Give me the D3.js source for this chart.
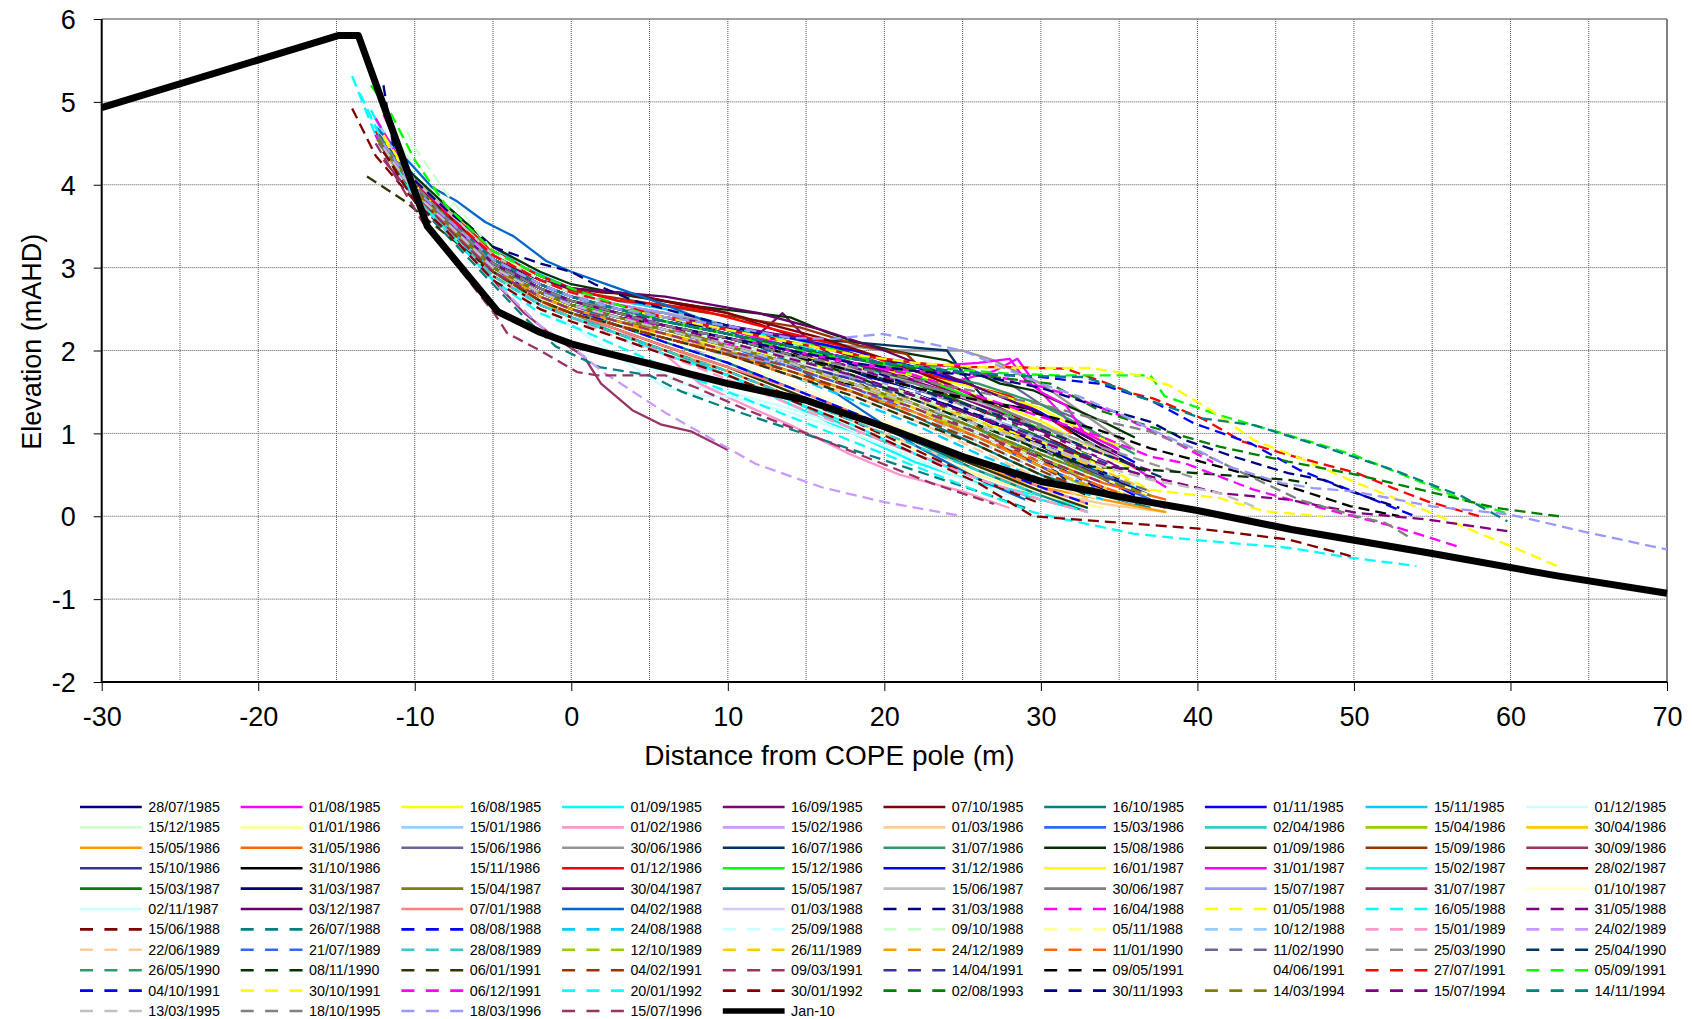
<!DOCTYPE html>
<html>
<head>
<meta charset="utf-8">
<script src="https://cdn.jsdelivr.net/npm/d3@7"></script>
<style>
body{margin:0;background:#fff;}
svg{display:block;}
text{font-family:"Liberation Sans",Arial,sans-serif;fill:#000;}
</style>
</head>
<body>
<svg id="chart" width="1693" height="1019"></svg>
<script>
/*Survey profiles: [distance from COPE pole (m), elevation (mAHD)]*/
var surveys1985 = [
  ["28/07/1985",[[-12.5,4.7],[-10,4.05],[-8,3.7],[-5,3.15],[-2,2.85],[0,2.7],[3,2.5],[6,2.4],[10,2.2],[14,2.0],[18,1.75],[22,1.45],[26,1.1],[30,0.7],[33,0.4],[36,0.15]]],
  ["01/08/1985",[[-12,4.85],[-10,4.0],[-8,3.6],[-5,3.0],[-2,2.7],[0,2.55],[3,2.4],[6,2.3],[9,2.1],[12,2.0],[16,1.85],[20,1.7],[24,1.6],[27,1.75],[28.5,1.9],[30,1.5],[32,1.1],[35,0.7],[38,0.35]]],
  ["16/08/1985",[[-12.3,4.5],[-10,3.95],[-8,3.55],[-5,3.05],[-2,2.7],[0,2.5],[3,2.35],[6,2.2],[10,2.05],[14,1.9],[18,1.8],[22,1.7],[26,1.45],[30,1.15],[33,0.85],[36,0.55]]],
  ["01/09/1985",[[-12.8,4.9],[-10,3.9],[-8,3.5],[-5,2.95],[-2,2.55],[0,2.4],[3,2.2],[6,2.0],[10,1.7],[14,1.35],[18,1.0],[22,0.65],[26,0.4],[30,0.25],[33,0.1]]],
  ["16/09/1985",[[-12,4.5],[-10,4.0],[-8,3.65],[-5,3.1],[-2,2.8],[0,2.65],[3,2.55],[6,2.45],[9,2.3],[12,2.2],[13.5,2.45],[15,2.15],[19,1.9],[23,1.6],[27,1.3],[31,0.9],[34,0.6]]],
  ["07/10/1985",[[-12.5,4.6],[-10,4.05],[-8,3.7],[-5,3.2],[-2,2.9],[0,2.75],[2,2.7],[4,2.68],[7,2.55],[10,2.45],[13,2.25],[16,2.05],[20,1.8],[24,1.45],[28,1.1],[32,0.7],[35,0.4]]],
  ["16/10/1985",[[-12,4.4],[-10,3.95],[-8,3.6],[-5,3.05],[-2,2.75],[0,2.55],[3,2.35],[6,2.2],[10,2.0],[14,1.75],[18,1.5],[22,1.2],[26,0.85],[30,0.5],[34,0.25],[37,0.1]]],
  ["01/11/1985",[[-12.3,4.6],[-10,3.9],[-8,3.55],[-5,3.0],[-2,2.7],[0,2.6],[3,2.45],[6,2.3],[10,2.15],[14,1.95],[18,1.75],[22,1.5],[26,1.2],[30,0.85],[33,0.55],[36,0.25]]],
  ["15/11/1985",[[-12.5,4.7],[-10,4.1],[-8,3.75],[-5,3.25],[-3,3.0],[0,2.75],[3,2.6],[6,2.5],[10,2.3],[14,2.1],[18,1.85],[22,1.55],[26,1.25],[30,0.9],[34,0.5],[37,0.2]]],
  ["01/12/1985",[[-12,4.4],[-10,3.85],[-8,3.5],[-5,2.95],[-2,2.6],[0,2.45],[3,2.25],[5,1.8],[7,1.6],[10,1.5],[14,1.3],[18,1.05],[22,0.75],[26,0.45],[29,0.25]]],
  ["15/12/1985",[[-11,4.5],[-10,4.2],[-8,3.75],[-5,3.2],[-2,2.85],[0,2.7],[3,2.5],[6,2.35],[10,2.15],[14,1.95],[18,1.7],[22,1.45],[26,1.1],[30,0.75],[33,0.45]]]
];
var surveys1986 = [
  ["01/01/1986",[[-12,4.5],[-10,3.9],[-8,3.55],[-5,3.0],[-2,2.65],[0,2.45],[3,2.25],[6,2.05],[10,1.8],[14,1.5],[18,1.15],[22,0.8],[26,0.5],[30,0.25],[34,0.1]]],
  ["15/01/1986",[[-12.5,4.8],[-10,4.0],[-8,3.65],[-5,3.1],[-2,2.8],[0,2.6],[3,2.4],[6,2.25],[10,2.05],[14,1.8],[18,1.55],[22,1.25],[26,0.95],[30,0.6],[33,0.35],[36,0.15]]],
  ["01/02/1986",[[-12,4.45],[-10,3.9],[-8,3.5],[-5,2.95],[-2,2.6],[0,2.45],[3,2.25],[6,1.95],[8.2,1.6],[11,1.35],[14,1.1],[17.8,0.75],[21,0.5],[25,0.3],[28,0.1]]],
  ["15/02/1986",[[-12.3,4.6],[-10,4.0],[-8,3.65],[-5,3.15],[-2,2.85],[0,2.7],[3,2.55],[6,2.45],[10,2.3],[14,2.1],[18,1.85],[22,1.55],[26,1.25],[30,0.9],[34,0.55]]],
  ["01/03/1986",[[-12,4.4],[-10,3.85],[-8,3.45],[-5,2.9],[-2,2.6],[0,2.45],[3,2.25],[6,2.05],[10,1.75],[14,1.45],[18,1.15],[22,0.85],[26,0.55],[30,0.3],[34,0.15],[38,0.05]]],
  ["15/03/1986",[[-12.4,4.6],[-10,3.95],[-8,3.6],[-5,3.05],[-2,2.75],[0,2.55],[3,2.4],[6,2.3],[10,2.1],[14,1.9],[18,1.7],[22,1.5],[26,1.2],[30,0.85],[34,0.45],[37,0.2]]],
  ["02/04/1986",[[-12,4.5],[-10,3.9],[-8,3.55],[-5,3.0],[-2,2.65],[0,2.45],[3,2.2],[6,2.0],[10,1.7],[14,1.4],[18,1.05],[22,0.75],[26,0.45],[29,0.25],[32,0.1]]],
  ["15/04/1986",[[-12.2,4.5],[-10,3.95],[-8,3.55],[-5,3.0],[-2,2.7],[0,2.55],[3,2.4],[6,2.25],[10,2.05],[14,1.85],[18,1.6],[22,1.3],[26,0.95],[30,0.6],[33,0.35],[36,0.2]]],
  ["30/04/1986",[[-12,4.4],[-10,3.85],[-8,3.5],[-5,2.95],[-2,2.65],[0,2.45],[3,2.3],[6,2.2],[10,2.0],[14,1.8],[18,1.55],[22,1.3],[26,1.0],[30,0.65],[34,0.35],[37,0.15]]],
  ["15/05/1986",[[-12.5,4.6],[-10,3.9],[-8,3.5],[-5,2.95],[-2,2.6],[0,2.4],[3,2.2],[6,2.0],[10,1.75],[14,1.45],[18,1.2],[22,0.9],[26,0.6],[30,0.35],[34,0.2],[38,0.05]]],
  ["31/05/1986",[[-12.3,4.55],[-10,3.95],[-8,3.6],[-5,3.05],[-2,2.75],[0,2.6],[3,2.45],[6,2.3],[10,2.1],[14,1.9],[18,1.65],[22,1.35],[26,1.05],[30,0.7],[34,0.4],[38,0.2]]],
  ["15/06/1986",[[-12,4.5],[-10,4.0],[-8,3.65],[-5,3.1],[-2,2.8],[0,2.65],[3,2.5],[6,2.4],[10,2.25],[14,2.1],[18,1.95],[22,1.85],[25,1.8],[28,1.6],[30,1.35],[32,1.2],[35,0.8]]],
  ["30/06/1986",[[-12.5,4.65],[-10,4.05],[-8,3.7],[-5,3.15],[-2,2.85],[0,2.7],[3,2.55],[6,2.45],[10,2.3],[14,2.15],[18,2.05],[20,2.0],[25,2.0],[27,1.88],[30,1.6],[33,1.2],[36,0.8]]],
  ["16/07/1986",[[-12.2,4.5],[-10,3.95],[-8,3.6],[-5,3.1],[-2,2.8],[0,2.65],[3,2.5],[6,2.4],[10,2.25],[14,2.15],[18,2.1],[21,2.05],[24,2.0],[25.2,1.68],[27.4,1.2],[29.5,0.8],[31.6,0.43]]],
  ["31/07/1986",[[-12,4.4],[-10,3.95],[-8,3.6],[-5,3.05],[-2,2.75],[0,2.6],[3,2.45],[6,2.35],[10,2.2],[14,2.05],[18,1.9],[22,1.75],[26,1.6],[30,1.35],[33,1.05],[36,0.75]]],
  ["15/08/1986",[[-12.5,4.6],[-10,4.1],[-8,3.75],[-5,3.25],[-2,2.95],[0,2.8],[4,2.65],[8.2,2.53],[14,2.4],[16.3,2.22],[18.2,2.1],[21,1.98],[24,1.88],[27.4,1.6],[29.5,1.52],[34.2,1.12],[36,0.95]]],
  ["01/09/1986",[[-12,4.4],[-10,3.9],[-8,3.5],[-5,2.95],[-2,2.6],[0,2.45],[3,2.25],[6,2.05],[10,1.8],[14,1.5],[18,1.2],[22,0.9],[26,0.6],[30,0.3],[33,0.1]]],
  ["15/09/1986",[[-12.3,4.55],[-10,4.0],[-8,3.65],[-5,3.15],[-2,2.85],[0,2.72],[4,2.6],[8.2,2.47],[14.6,2.28],[18.4,2.06],[21.4,1.96],[22.7,1.72],[25.7,1.12],[28,0.8],[31,0.5]]],
  ["30/09/1986",[[-12,4.45],[-10,3.9],[-8,3.55],[-5,3.0],[-2,2.7],[0,2.55],[3,2.4],[6,2.25],[10,2.1],[14,1.9],[18,1.65],[22,1.35],[26,1.0],[30,0.65],[34,0.35]]],
  ["15/10/1986",[[-12.5,4.6],[-10,4.0],[-8,3.6],[-5,3.05],[-2,2.75],[0,2.6],[3,2.45],[6,2.3],[10,2.15],[14,1.95],[18,1.75],[22,1.5],[26,1.2],[30,0.85],[33,0.55],[36,0.3]]],
  ["31/10/1986",[[-12,4.4],[-10,3.9],[-8,3.55],[-5,3.0],[-2,2.7],[0,2.55],[3,2.4],[6,2.3],[10,2.15],[14,2.0],[17.4,1.6],[22,1.5],[26,1.4],[29.7,1.28],[33,0.9],[36,0.6]]],
  ["15/11/1986",[[-12.2,4.5],[-10,3.95],[-8,3.6],[-5,3.05],[-2,2.75],[0,2.6],[3,2.45],[6,2.3],[10,2.1],[14,1.9],[18,1.65],[22,1.4],[26,1.1],[30,0.75]]],
  ["01/12/1986",[[-12.4,4.6],[-10,4.05],[-8,3.7],[-5,3.2],[-2,2.9],[0,2.75],[3,2.6],[6,2.55],[8.2,2.49],[12,2.3],[17.6,2.04],[19.9,1.88],[22,1.75],[26,1.55],[28,1.45],[30,1.25],[32,1.0]]],
  ["15/12/1986",[[-12,4.5],[-10,3.95],[-8,3.55],[-5,3.0],[-2,2.7],[0,2.55],[3,2.45],[6,2.4],[10,2.3],[14,2.15],[18,1.95],[22,1.7],[26,1.4],[30,1.05],[33,0.75]]],
  ["31/12/1986",[[-12.3,4.55],[-10,4.0],[-8,3.6],[-5,3.05],[-2,2.8],[0,2.65],[3,2.5],[6,2.4],[10,2.3],[14,2.15],[18,2.0],[22,1.8],[26,1.55],[30,1.25],[33,0.95],[36,0.65]]]
];
var surveys1987 = [
  ["16/01/1987",[[-12,4.45],[-10,3.9],[-8,3.55],[-5,3.0],[-2,2.7],[0,2.55],[3,2.4],[6,2.3],[10,2.15],[14,1.95],[18,1.8],[22,1.7],[26,1.55],[30,1.3],[33,1.0],[35,0.85]]],
  ["31/01/1987",[[-12.5,4.7],[-10,4.05],[-8,3.65],[-5,3.1],[-2,2.8],[0,2.65],[3,2.5],[6,2.4],[10,2.25],[14,2.05],[18,1.9],[22,1.8],[26,1.85],[28,1.9],[29,1.65],[30,1.5],[31.6,1.34],[32.7,1.02],[35,0.8]]],
  ["15/02/1987",[[-12,4.5],[-10,3.95],[-8,3.6],[-5,3.05],[-2,2.75],[0,2.6],[3,2.5],[6,2.4],[10,2.3],[14,2.1],[18,1.85],[22,1.55],[26,1.25],[30,0.9],[33,0.6],[36,0.35]]],
  ["28/02/1987",[[-12.3,4.6],[-10,4.0],[-8,3.65],[-5,3.15],[-2,2.85],[0,2.75],[3,2.7],[6,2.6],[9,2.5],[12,2.35],[16,2.15],[20,1.9],[24,1.6],[28,1.25],[31,0.9],[34,0.6]]],
  ["15/03/1987",[[-12,4.45],[-10,3.95],[-8,3.6],[-5,3.05],[-2,2.75],[0,2.6],[3,2.45],[6,2.35],[10,2.2],[14,2.05],[18,1.85],[22,1.6],[26,1.3],[30,0.95],[34,0.6]]],
  ["31/03/1987",[[-12.5,4.6],[-10,3.95],[-8,3.55],[-5,3.0],[-2,2.7],[0,2.55],[3,2.4],[6,2.3],[10,2.15],[14,1.95],[18,1.75],[22,1.5],[26,1.2],[30,0.85],[34,0.5],[37,0.25]]],
  ["15/04/1987",[[-12,4.4],[-10,3.85],[-8,3.5],[-5,2.95],[-2,2.65],[0,2.5],[3,2.35],[6,2.25],[10,2.1],[14,1.9],[18,1.7],[22,1.45],[26,1.15],[30,0.8],[34,0.45]]],
  ["30/04/1987",[[-12.3,4.55],[-10,4.0],[-8,3.6],[-5,3.05],[-2,2.8],[0,2.65],[3,2.5],[6,2.4],[10,2.3],[13,2.2],[15,2.15],[17,1.9],[20,1.75],[24,1.5],[28,1.2],[32,0.85],[35,0.6]]],
  ["15/05/1987",[[-12,4.45],[-10,3.9],[-8,3.55],[-5,3.0],[-2,2.65],[0,2.5],[3,2.3],[6,2.1],[10,1.85],[14,1.55],[18,1.25],[22,0.9],[26,0.55],[30,0.25],[33,0.05]]],
  ["15/06/1987",[[-12.5,4.7],[-10,4.05],[-8,3.7],[-5,3.15],[-2,2.85],[0,2.7],[3,2.55],[6,2.45],[8,2.4],[9.5,2.05],[12,2.0],[16,1.85],[20,1.7],[24,1.5],[28,1.25],[32,0.95],[35,0.7]]],
  ["30/06/1987",[[-12.2,4.5],[-10,3.95],[-8,3.6],[-5,3.05],[-2,2.75],[0,2.6],[3,2.5],[6,2.45],[7,2.4],[8.5,2.0],[11,1.95],[15,1.85],[18,1.75],[22,1.6],[26,1.4],[30,1.1],[33,0.8]]],
  ["15/07/1987",[[-12,4.45],[-10,3.95],[-8,3.6],[-5,3.1],[-2,2.8],[0,2.65],[3,2.55],[6,2.45],[7,2.4],[8,2.0],[10,1.95],[13,1.85],[16,1.75],[20,1.6],[24,1.4],[28,1.1],[32,0.75]]],
  ["31/07/1987",[[-12,4.3],[-10,3.85],[-8,3.45],[-5,2.85],[-3,2.45],[-1,2.15],[0.8,1.93],[1.9,1.6],[3.9,1.28],[5.7,1.11],[7.7,1.02],[10,0.8]]],
  ["01/10/1987",[[-12.3,4.5],[-10,3.9],[-8,3.55],[-5,3.0],[-2,2.65],[0,2.45],[3,2.3],[6,2.15],[10,1.9],[14,1.6],[18,1.3],[22,1.0],[26,0.65],[30,0.4],[34,0.2]]],
  ["02/11/1987",[[-12,4.4],[-10,3.85],[-8,3.45],[-5,2.9],[-2,2.5],[0,2.3],[2,2.05],[4,1.8],[6,1.55],[8.5,1.45],[10,1.45],[14,1.25],[18,1.0],[22,0.7],[25,0.45],[28,0.25]]],
  ["03/12/1987",[[-12.4,4.55],[-10,4.0],[-8,3.6],[-5,3.1],[-2,2.85],[0,2.75],[3,2.7],[6,2.65],[9,2.55],[12,2.45],[16,2.25],[20,2.0],[24,1.7],[28,1.4],[32,1.05],[35,0.75]]]
];
var surveys1988 = [
  ["07/01/1988",[[-12,4.4],[-10,3.9],[-8,3.5],[-5,2.95],[-2,2.6],[0,2.45],[3,2.25],[6,2.05],[10,1.8],[14,1.55],[18,1.25],[22,0.95],[26,0.65],[30,0.35],[33,0.15]]],
  ["04/02/1988",[[-12.5,4.7],[-10,4.2],[-8.9,3.97],[-7.3,3.8],[-5.5,3.55],[-3.7,3.38],[-1.6,3.08],[0,2.95],[3,2.75],[6,2.55],[10,2.25],[14,1.85],[18,1.35],[22,0.85],[26,0.45],[29,0.2]]],
  ["01/03/1988",[[-12,4.45],[-10,3.9],[-8,3.55],[-5,3.05],[-2,2.75],[0,2.6],[3,2.45],[6,2.35],[10,2.2],[14,2.0],[18,1.8],[22,1.55],[26,1.25],[30,0.9],[34,0.55]]],
  ["31/03/1988",[[-12,5.2],[-11.4,4.5],[-10,4.05],[-8,3.7],[-5,3.25],[-2,3.05],[0,2.95],[1.5,2.8],[4,2.6],[8,2.4],[12,2.2],[16,1.95],[20,1.7],[24,1.4],[28,1.05],[32,0.7],[35,0.45]]],
  ["16/04/1988",[[-12.5,4.8],[-10,4.0],[-8,3.6],[-5,3.05],[-2,2.75],[0,2.6],[3,2.45],[6,2.3],[10,2.15],[14,2.0],[18,1.85],[22,1.75],[26,1.72],[29,1.62],[32,1.45],[35,1.22],[38,0.95],[41,0.65]]],
  ["01/05/1988",[[-12,4.6],[-10,4.0],[-8,3.6],[-5,3.05],[-2,2.75],[0,2.6],[3,2.45],[6,2.3],[10,2.1],[14,1.9],[18,1.7],[22,1.45],[26,1.15],[30,0.9],[34,0.6],[37,0.32],[41.4,0.22],[44.3,0.06],[48,0.0]]],
  ["16/05/1988",[[-14,5.31],[-12.5,4.6],[-10,3.85],[-8,3.5],[-5,2.95],[-2,2.55],[0,2.4],[3,2.2],[6,1.95],[10,1.7],[14,1.4],[18,1.1],[22,0.75],[26,0.45],[30,0.2],[33,0.05]]],
  ["31/05/1988",[[-12.3,4.55],[-10,3.95],[-8,3.6],[-5,3.05],[-2,2.75],[0,2.6],[3,2.45],[6,2.35],[10,2.2],[14,2.0],[18,1.8],[22,1.55],[26,1.3],[30,1.0],[34,0.75],[37,0.55]]],
  ["15/06/1988",[[-14,4.92],[-12.5,4.35],[-10,3.8],[-8,3.45],[-5,2.9],[-2,2.55],[0,2.4],[3,2.2],[6,2.0],[10,1.75],[14,1.45],[18,1.15],[22,0.8],[26,0.45],[30,0.15]]],
  ["26/07/1988",[[-12,4.4],[-10,3.8],[-8,3.4],[-5,2.8],[-3,2.4],[-1,2.05],[1.8,1.8],[5,1.7],[7.1,1.5],[10,1.3],[14,1.05],[18,0.8],[22,0.55],[26,0.3],[29,0.1]]],
  ["08/08/1988",[[-12.5,4.6],[-10,3.95],[-8,3.55],[-5,3.0],[-2,2.65],[0,2.5],[3,2.3],[6,2.1],[10,1.85],[14,1.55],[18,1.25],[22,0.95],[26,0.65],[30,0.35],[33,0.15]]],
  ["24/08/1988",[[-12,4.5],[-10,3.9],[-8,3.5],[-5,2.95],[-2,2.6],[0,2.45],[3,2.3],[6,2.15],[10,1.95],[14,1.7],[18,1.4],[22,1.1],[26,0.75],[30,0.45],[34,0.2]]],
  ["25/09/1988",[[-12.3,4.55],[-10,3.95],[-8,3.6],[-5,3.05],[-2,2.75],[0,2.6],[3,2.45],[6,2.3],[10,2.1],[14,1.9],[18,1.65],[22,1.35],[26,1.0],[30,0.65],[33,0.4]]],
  ["09/10/1988",[[-10.5,4.65],[-10,4.45],[-8,3.9],[-5,3.2],[-2,2.85],[0,2.7],[3,2.5],[6,2.35],[10,2.15],[14,1.95],[18,1.7],[22,1.45],[26,1.15],[30,0.8],[33,0.5]]],
  ["05/11/1988",[[-12,4.45],[-10,3.9],[-8,3.55],[-5,3.0],[-2,2.7],[0,2.55],[3,2.4],[6,2.25],[10,2.05],[14,1.85],[18,1.6],[22,1.35],[26,1.05],[30,0.75],[34,0.45],[37,0.25]]],
  ["10/12/1988",[[-12.4,4.6],[-10,3.95],[-8,3.6],[-5,3.05],[-2,2.7],[0,2.55],[3,2.4],[6,2.25],[10,2.05],[14,1.8],[18,1.55],[22,1.25],[26,0.9],[30,0.55],[33,0.3]]]
];
var surveys1989 = [
  ["15/01/1989",[[-12,4.4],[-10,3.85],[-8,3.45],[-5,2.9],[-2,2.55],[0,2.4],[3,2.15],[6,1.95],[10,1.65],[14,1.35],[18,1.05],[22,0.75],[26,0.45],[30,0.2],[33,0.05]]],
  ["24/02/1989",[[-12.2,4.5],[-10,3.85],[-8,3.45],[-5,2.85],[-2,2.3],[0,2.05],[2.1,1.73],[6,1.25],[11.8,0.63],[16,0.35],[20,0.17],[25,0.0]]],
  ["22/06/1989",[[-12,4.45],[-10,3.9],[-8,3.5],[-5,2.95],[-2,2.6],[0,2.45],[3,2.3],[6,2.15],[10,1.95],[14,1.7],[18,1.45],[22,1.15],[26,0.8],[30,0.45],[33,0.2]]],
  ["21/07/1989",[[-12.5,4.6],[-10,3.95],[-8,3.55],[-5,3.0],[-2,2.7],[0,2.55],[3,2.4],[6,2.25],[10,2.05],[14,1.8],[18,1.55],[22,1.25],[26,0.95],[30,0.6],[34,0.3]]],
  ["28/08/1989",[[-12,4.4],[-10,3.85],[-8,3.5],[-5,2.9],[-2,2.55],[0,2.4],[3,2.2],[6,2.0],[10,1.75],[14,1.45],[18,1.15],[22,0.85],[26,0.55],[30,0.25]]],
  ["12/10/1989",[[-12.3,4.5],[-10,3.9],[-8,3.55],[-5,3.0],[-2,2.7],[0,2.55],[3,2.4],[6,2.25],[10,2.05],[14,1.85],[18,1.6],[22,1.35],[26,1.05],[30,0.7],[33,0.45]]],
  ["26/11/1989",[[-12,4.45],[-10,3.9],[-8,3.5],[-5,2.95],[-2,2.65],[0,2.5],[3,2.35],[6,2.2],[10,2.0],[14,1.8],[18,1.6],[22,1.4],[26,1.15],[30,0.85],[34,0.55],[37,0.3]]],
  ["24/12/1989",[[-12.4,4.55],[-10,3.95],[-8,3.55],[-5,3.0],[-2,2.65],[0,2.5],[3,2.35],[6,2.2],[10,1.95],[14,1.75],[18,1.5],[22,1.25],[26,0.95],[30,0.6],[34,0.3],[37,0.15]]]
];
var surveys1990 = [
  ["11/01/1990",[[-12,4.4],[-10,3.9],[-8,3.5],[-5,2.95],[-2,2.6],[0,2.45],[3,2.3],[6,2.15],[10,1.95],[14,1.7],[18,1.5],[22,1.25],[26,0.95],[30,0.65],[34,0.35],[38,0.1]]],
  ["11/02/1990",[[-12.3,4.5],[-10,3.95],[-8,3.55],[-5,3.0],[-2,2.7],[0,2.55],[3,2.4],[6,2.25],[10,2.05],[14,1.85],[18,1.65],[22,1.4],[26,1.1],[30,0.8],[34,0.5],[37,0.3]]],
  ["25/03/1990",[[-12,4.45],[-10,3.9],[-8,3.55],[-5,3.0],[-2,2.7],[0,2.55],[3,2.4],[6,2.3],[10,2.1],[14,1.9],[18,1.7],[22,1.5],[25,1.35],[28,1.2],[32,0.95],[36,0.7],[40,0.45]]],
  ["25/04/1990",[[-12.5,4.6],[-10,4.0],[-8,3.6],[-5,3.05],[-2,2.75],[0,2.6],[3,2.45],[6,2.3],[10,2.15],[14,1.95],[18,1.75],[22,1.55],[26,1.3],[30,1.05],[34,0.75],[38,0.45]]],
  ["26/05/1990",[[-12,4.5],[-10,3.95],[-8,3.6],[-5,3.05],[-2,2.7],[0,2.55],[3,2.4],[6,2.25],[10,2.05],[14,1.85],[18,1.6],[22,1.35],[26,1.05],[30,0.75],[34,0.45]]],
  ["08/11/1990",[[-12.3,4.55],[-10,3.95],[-8,3.55],[-5,3.0],[-2,2.7],[0,2.55],[3,2.4],[6,2.3],[10,2.15],[14,1.95],[18,1.7],[22,1.4],[26,1.1],[30,0.8],[33,0.6],[37,0.56],[41.4,0.5],[45.8,0.44],[47,0.4]]]
];
var surveys1991 = [
  ["06/01/1991",[[-13.05,4.1],[-10.7,3.81],[-9,3.55],[-7,3.25],[-5,2.95],[-2,2.6],[0,2.45],[3,2.3],[6,2.15],[10,1.95],[14,1.7],[18,1.45],[22,1.15],[26,0.85],[30,0.5],[33,0.25]]],
  ["04/02/1991",[[-12,4.4],[-10,3.9],[-8,3.5],[-5,2.95],[-2,2.6],[0,2.45],[3,2.3],[6,2.15],[10,1.95],[14,1.75],[18,1.5],[22,1.2],[26,0.9],[30,0.55],[33,0.3]]],
  ["09/03/1991",[[-12,4.45],[-10,3.9],[-8,3.5],[-5,2.95],[-2,2.65],[0,2.5],[3,2.35],[6,2.2],[10,2.0],[14,1.8],[18,1.55],[22,1.3],[26,1.0],[30,0.7],[34,0.4]]],
  ["14/04/1991",[[-12,4.45],[-10,3.9],[-8,3.55],[-5,3.0],[-2,2.7],[0,2.55],[3,2.4],[6,2.25],[10,2.05],[14,1.85],[18,1.65],[22,1.45],[26,1.2],[30,0.95],[34,0.65],[38,0.4]]],
  ["09/05/1991",[[-12.3,4.55],[-10,3.95],[-8,3.6],[-5,3.05],[-2,2.75],[0,2.6],[3,2.45],[6,2.3],[10,2.15],[14,1.95],[18,1.75],[22,1.55],[26,1.4],[30.6,1.2],[33.7,1.04],[37,0.82],[41.4,0.6],[45.8,0.36],[49.8,0.12],[52.9,0.0]]],
  ["04/06/1991",[[-12,4.5],[-10,3.95],[-8,3.6],[-5,3.05],[-2,2.75],[0,2.6],[3,2.45],[6,2.3],[10,2.1],[14,1.9],[18,1.7],[22,1.5],[26,1.25],[30,1.0],[34,0.7],[38,0.4]]],
  ["27/07/1991",[[-12.5,4.65],[-10,4.0],[-8,3.65],[-5,3.15],[-2,2.85],[0,2.7],[3,2.55],[6,2.4],[10,2.25],[14,2.1],[18,1.95],[22,1.85],[25,1.8],[28,1.8],[31.6,1.78],[34,1.62],[35.9,1.48],[37.2,1.42],[40.3,1.18],[42.9,0.9],[45.8,0.74],[50.2,0.52],[52.5,0.34],[54.7,0.18],[58,0.0]]],
  ["05/09/1991",[[-12.8,5.2],[-11.5,4.85],[-10,4.3],[-8,3.75],[-5,3.2],[-2,2.9],[0,2.75],[3,2.55],[6,2.35],[10,2.2],[13,2.05],[16,1.95],[20,1.85],[24,1.78],[28,1.72],[31,1.7],[37,1.7],[37.9,1.45],[41.4,1.22],[45.8,0.98],[50,0.74],[54.7,0.38],[56.7,0.22],[60,0.02]]],
  ["04/10/1991",[[-12.3,4.6],[-10,4.0],[-8,3.6],[-5,3.1],[-2,2.8],[0,2.65],[3,2.5],[6,2.35],[10,2.2],[14,2.05],[18,1.9],[22,1.8],[26,1.72],[30,1.68],[33.7,1.6],[37,1.4],[39.8,1.12],[43.4,0.88],[46.5,0.56],[50.2,0.28],[53.9,0.0]]],
  ["30/10/1991",[[-12,4.55],[-10,4.0],[-8,3.6],[-5,3.1],[-2,2.8],[0,2.65],[3,2.5],[6,2.4],[10,2.25],[14,2.1],[18,1.95],[22,1.85],[26,1.8],[29.5,1.79],[33.1,1.79],[36.3,1.7],[38.2,1.58],[40.7,1.3],[43.6,0.92],[46.3,0.72],[50.2,0.4],[54.7,0.06],[56.9,-0.12],[60,-0.36],[63.1,-0.61]]],
  ["06/12/1991",[[-12.5,4.6],[-10,3.95],[-8,3.55],[-5,3.0],[-2,2.7],[0,2.55],[3,2.4],[6,2.3],[10,2.15],[14,2.0],[18,1.85],[22,1.7],[26,1.45],[30,1.2],[34,0.95],[37,0.72],[39.2,0.64],[43.6,0.32],[49.1,0.04],[52.5,-0.12],[56.9,-0.38]]]
];
var surveys1992to1996 = [
  ["20/01/1992",[[-13.5,5.1],[-12,4.5],[-10,3.85],[-8,3.45],[-5,2.85],[-2,2.45],[0,2.3],[3,2.05],[6,1.8],[10,1.5],[14,1.2],[18,0.9],[22,0.6],[26,0.3],[29.5,0.05],[31.6,-0.04],[35.9,-0.21],[40.1,-0.29],[45.8,-0.38],[49.8,-0.5],[54,-0.6]]],
  ["30/01/1992",[[-12,4.4],[-10,3.8],[-8,3.45],[-5,2.85],[-2,2.5],[0,2.35],[3,2.15],[6,1.95],[10,1.7],[14,1.4],[18,1.1],[22,0.75],[26,0.4],[29.5,0.0],[35.9,-0.09],[40.1,-0.15],[45.8,-0.28],[49.8,-0.48]]],
  ["02/08/1993",[[-12.3,4.55],[-10,4.0],[-8,3.6],[-5,3.1],[-2,2.8],[0,2.65],[3,2.5],[6,2.35],[10,2.2],[14,2.05],[18,1.9],[22,1.78],[26,1.7],[30.6,1.6],[33.7,1.28],[37,1.08],[41.4,0.84],[45.8,0.66],[50.2,0.5],[54.7,0.3],[59.1,0.1],[63.1,0.0]]],
  ["30/11/1993",[[-12,4.5],[-10,3.95],[-8,3.6],[-5,3.05],[-2,2.75],[0,2.6],[3,2.45],[6,2.3],[10,2.15],[14,2.0],[18,1.85],[22,1.75],[26,1.7],[30,1.55],[34,1.3],[37,1.14],[39.2,0.92],[42.3,0.72],[45.8,0.52],[48,0.44],[49.8,0.3],[52.9,0.1]]],
  ["14/03/1994",[[-12.4,4.55],[-10,3.95],[-8,3.55],[-5,3.0],[-2,2.7],[0,2.55],[3,2.4],[6,2.25],[10,2.05],[14,1.85],[18,1.6],[22,1.35],[26,1.05],[30,0.75],[34,0.45],[37,0.25]]],
  ["15/07/1994",[[-12,4.5],[-10,3.95],[-8,3.6],[-5,3.05],[-2,2.75],[0,2.6],[3,2.45],[6,2.3],[10,2.1],[14,1.9],[18,1.7],[22,1.45],[26,1.2],[30,0.9],[34,0.62],[37,0.48],[41.4,0.28],[45.8,0.2],[50.2,0.04],[54.7,-0.04],[59.8,-0.18]]],
  ["14/11/1994",[[-12.3,4.6],[-10,4.0],[-8,3.6],[-5,3.1],[-2,2.8],[0,2.65],[3,2.5],[6,2.35],[10,2.2],[14,2.05],[18,1.9],[22,1.8],[26,1.72],[29.5,1.69],[32.7,1.68],[34.8,1.56],[36.3,1.44],[40.3,1.18],[43.6,1.1],[48,0.84],[52.5,0.56],[56.9,0.24],[59.8,-0.06]]],
  ["13/03/1995",[[-12,4.45],[-10,3.9],[-8,3.55],[-5,3.0],[-2,2.7],[0,2.55],[3,2.4],[6,2.25],[10,2.05],[14,1.85],[18,1.6],[22,1.35],[26,1.1],[30,0.85],[34,0.6],[37,0.44],[41.4,0.28],[43.6,0.12]]],
  ["18/10/1995",[[-12.4,4.6],[-10,4.0],[-8,3.6],[-5,3.05],[-2,2.75],[0,2.6],[3,2.45],[6,2.3],[10,2.15],[14,1.95],[18,1.8],[22,1.65],[26,1.5],[30,1.35],[34,1.15],[37,1.02],[40.5,0.74],[43.6,0.46],[46.5,0.2],[50.2,0.0],[52,-0.08],[53.6,-0.26]]],
  ["18/03/1996",[[-12,4.5],[-10,3.95],[-8,3.6],[-5,3.1],[-2,2.8],[0,2.65],[3,2.5],[6,2.4],[10,2.3],[14,2.15],[16.7,2.14],[19.9,2.2],[25,2.0],[30,1.6],[32.5,1.44],[35,1.24],[37,1.05],[40,0.8],[42,0.6],[45.4,0.4],[47.4,0.34],[50,0.3],[55,0.12],[60,0.02],[65,-0.2],[70,-0.4]]],
  ["15/07/1996",[[-12.5,4.5],[-9.5,3.55],[-7,2.95],[-4.93,2.45],[-4.1,2.21],[-1.8,1.98],[0.37,1.74],[1.65,1.7],[6,1.7],[8,1.55],[11,1.3],[15,1.0],[19,0.7],[23,0.4],[27,0.15]]]
];
var jan10 = [[-30,4.93],[-14.9,5.8],[-13.6,5.8],[-9.2,3.5],[-4.7,2.47],[-2,2.22],[0,2.08],[2,1.98],[5,1.84],[10,1.6],[15,1.4],[20,1.08],[25,0.72],[30,0.42],[32,0.35],[36,0.2],[40,0.07],[46,-0.16],[55,-0.45],[63,-0.72],[70,-0.93]];
var xTicks = [-30,-20,-10,0,10,20,30,40,50,60,70];
var yTicks = [-2,-1,0,1,2,3,4,5,6];

/*Excel 2003 line series colour order*/
var palette = ["#000080","#FF00FF","#FFFF00","#00FFFF","#800080","#800000","#008080","#0000FF","#00CCFF","#CCFFFF",
  "#CCFFCC","#FFFF99","#99CCFF","#FF99CC","#CC99FF","#FFCC99","#3366FF","#33CCCC","#99CC00","#FFCC00",
  "#FF9900","#FF6600","#666699","#969696","#003366","#339966","#003300","#333300","#993300","#993366",
  "#333399","#000000","#FFFFFF","#FF0000","#00FF00","#0000FF","#FFFF00","#FF00FF","#00FFFF","#800000",
  "#008000","#000080","#808000","#800080","#008080","#C0C0C0","#808080","#9999FF","#993366","#FFFFCC",
  "#CCFFFF","#660066","#FF8080","#0066CC","#CCCCFF"];

var surveys = [].concat(surveys1985,surveys1986,surveys1987,surveys1988,surveys1989,surveys1990,surveys1991,surveys1992to1996);
var series = surveys.map(function(s,i){
  return {name:s[0],values:s[1],color:palette[i%palette.length],dashed:i>=palette.length,width:2.3};
});
series.push({name:"Jan-10",values:jan10,color:"#000",dashed:false,width:7});

var svg = d3.select("#chart");
var plot = {left:101.7,right:1667,top:19,bottom:682};
var x = d3.scaleLinear().domain([-30,70]).range([plot.left,plot.right]);
var y = d3.scaleLinear().domain([-2,6]).range([plot.bottom,plot.top]);
var plain = function(d){return String(d);}; //hyphen minus, as in the original

svg.append("rect").attr("width",1693).attr("height",1019).attr("fill","#fff");

/*grid*/
var grid = svg.append("g");
grid.selectAll(".vg").data(x.ticks(20).filter(function(v){return v>-30&&v<70;}))
  .enter().append("line")
  .attr("x1",function(d){return x(d);}).attr("x2",function(d){return x(d);})
  .attr("y1",plot.top).attr("y2",plot.bottom)
  .attr("stroke","#555").attr("stroke-width",1).attr("stroke-dasharray","1,1");
grid.selectAll(".hg").data(yTicks.filter(function(v){return v>-2&&v<6;}))
  .enter().append("line")
  .attr("y1",function(d){return y(d);}).attr("y2",function(d){return y(d);})
  .attr("x1",plot.left).attr("x2",plot.right)
  .attr("stroke","#555").attr("stroke-width",1).attr("stroke-dasharray","1,1");

/*plot frame*/
svg.append("line").attr("x1",plot.left).attr("x2",plot.right).attr("y1",plot.top).attr("y2",plot.top)
  .attr("stroke","#808080").attr("stroke-width",1.5);
svg.append("line").attr("x1",plot.right).attr("x2",plot.right).attr("y1",plot.top).attr("y2",plot.bottom)
  .attr("stroke","#808080").attr("stroke-width",2);

/*profiles*/
var line = d3.line().x(function(d){return x(d[0]);}).y(function(d){return y(d[1]);});
svg.append("g").selectAll("path").data(series).enter().append("path")
  .attr("d",function(d){return line(d.values);})
  .attr("fill","none")
  .attr("stroke",function(d){return d.color;})
  .attr("stroke-width",function(d){return d.width;})
  .attr("stroke-linejoin","round")
  .attr("stroke-dasharray",function(d){return d.dashed?"11,6":null;});

/*axes*/
var yAxis = svg.append("g").attr("transform","translate("+plot.left+",0)")
  .call(d3.axisLeft(y).tickValues(yTicks).tickSize(8).tickPadding(18).tickFormat(plain));
var xAxis = svg.append("g").attr("transform","translate(0,"+plot.bottom+")")
  .call(d3.axisBottom(x).tickValues(xTicks).tickSize(9).tickPadding(16).tickFormat(plain));
[yAxis,xAxis].forEach(function(a){
  a.select(".domain").remove();
  a.selectAll(".tick line").attr("stroke","#000").attr("stroke-width",1);
  a.selectAll(".tick text").style("font-size","27px").attr("font-family",null);
});
yAxis.selectAll(".tick text").attr("dy","0.36em");
xAxis.selectAll(".tick text").attr("dy","0.71em");
svg.append("line").attr("x1",plot.left).attr("x2",plot.left).attr("y1",plot.top).attr("y2",plot.bottom+1)
  .attr("stroke","#000").attr("stroke-width",2);
svg.append("line").attr("x1",plot.left).attr("x2",plot.right).attr("y1",plot.bottom).attr("y2",plot.bottom)
  .attr("stroke","#000").attr("stroke-width",2);

svg.append("text").attr("x",829.5).attr("y",765).attr("text-anchor","middle")
  .style("font-size","28px").text("Distance from COPE pole (m)");
svg.append("text").attr("transform","translate(41,341.7) rotate(-90)").attr("text-anchor","middle")
  .style("font-size","27px").text("Elevation (mAHD)");

/*legend*/
var legend = svg.append("g").selectAll("g").data(series).enter().append("g")
  .attr("transform",function(d,i){return "translate("+(80+(i%10)*160.7)+","+(807+Math.floor(i/10)*20.4)+")";});
legend.append("line").attr("x1",0).attr("x2",61.8).attr("y1",0).attr("y2",0)
  .attr("stroke",function(d){return d.color;})
  .attr("stroke-width",function(d){return d.width>3?5.5:2.6;})
  .attr("stroke-dasharray",function(d){return d.dashed?"13,11.4":null;});
legend.append("text").attr("x",68.3).attr("y",0).attr("dy","0.35em")
  .style("font-size","14.3px").text(function(d){return d.name;});
</script>
</body>
</html>
